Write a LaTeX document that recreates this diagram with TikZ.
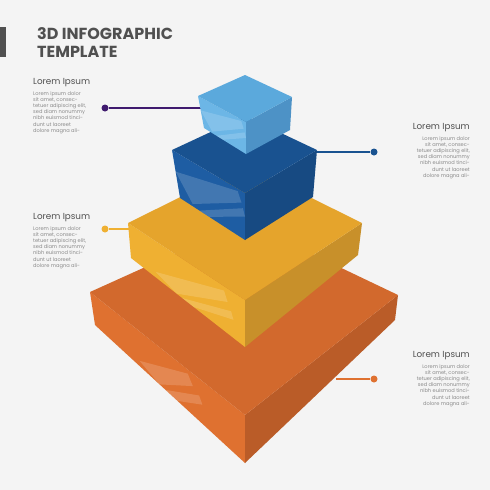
\documentclass[tikz,border=0pt]{standalone}
\usepackage{fontspec}
\setmainfont{Poppins}
\usetikzlibrary{positioning, calc}

\definecolor{bg}{HTML}{F4F4F4}
\definecolor{headgray}{HTML}{505050}
\definecolor{bodygray}{HTML}{8A8A8A}
\definecolor{purp}{HTML}{3F1A6E}
\definecolor{lbTop}{HTML}{5BA9DC}
\definecolor{lbLeft}{HTML}{6CB6E6}
\definecolor{lbRight}{HTML}{4D92C6}
\definecolor{dbTop}{HTML}{195290}
\definecolor{dbLeft}{HTML}{1E5DA3}
\definecolor{dbRight}{HTML}{174A82}
\definecolor{yeTop}{HTML}{E5A42C}
\definecolor{yeLeft}{HTML}{EFB032}
\definecolor{yeRight}{HTML}{C8902A}
\definecolor{orTop}{HTML}{D2692D}
\definecolor{orLeft}{HTML}{DF7130}
\definecolor{orRight}{HTML}{BA5C28}

\begin{document}
\begin{tikzpicture}[x=1pt, y=-1pt,
  head/.style={font=\fontsize{8.8}{11}\selectfont, text=headgray, inner sep=0pt},
  body/.style={font=\fontsize{5.1}{6.2}\selectfont, text=bodygray, inner sep=0pt},
  dot/.style={circle, fill=#1, inner sep=0pt, minimum size=7pt},
  link/.style={draw=#1, line width=1.2pt},
  gloss/.style={fill=white, opacity=0.16}]
\fill[bg] (0,0) rectangle (490,490);
\useasboundingbox (0,0) rectangle (490,490);

% title
\fill[headgray] (0,27) rectangle (6,57);
\node[anchor=north west, align=left, inner sep=0pt, text=headgray,
  font=\fontsize{16}{17.5}\selectfont\bfseries] (title) at (37,27.5) {3D INFOGRAPHIC\\TEMPLATE};

% texts
\node[head, anchor=base west] (h1) at (33,84.5) {Lorem Ipsum};
\node[body, below=4pt of h1.south west, anchor=north west, align=left] (t1)
  {Lorem ipsum dolor\\sit amet, consec-\\tetuer adipiscing elit,\\sed diam nonummy\\nibh euismod tinci-\\dunt ut laoreet\\dolore magna ali-};
\node[head, anchor=base west] (h2) at (33,219.5) {Lorem Ipsum};
\node[body, below=4pt of h2.south west, anchor=north west, align=left] (t2)
  {Lorem ipsum dolor\\sit amet, consec-\\tetuer adipiscing elit,\\sed diam nonummy\\nibh euismod tinci-\\dunt ut laoreet\\dolore magna ali-};
\node[head, anchor=base east] (h3) at (470,129.5) {Lorem Ipsum};
\node[body, below=4pt of h3.south east, anchor=north east, align=right] (t3)
  {Lorem ipsum dolor\\sit amet, consec-\\tetuer adipiscing elit,\\sed diam nonummy\\nibh euismod tinci-\\dunt ut laoreet\\dolore magna ali-};
\node[head, anchor=base east] (h4) at (470,357.5) {Lorem Ipsum};
\node[body, below=4pt of h4.south east, anchor=north east, align=right] (t4)
  {Lorem ipsum dolor\\sit amet, consec-\\tetuer adipiscing elit,\\sed diam nonummy\\nibh euismod tinci-\\dunt ut laoreet\\dolore magna ali-};

% connectors
\node[dot=purp] (d1) at (105,108) {};
\coordinate (c1) at (201,108);
\draw[link=purp] (d1) -- (c1);
\node[dot=dbTop] (d2) at (374,152) {};
\coordinate (c2) at (315,152);
\draw[link=dbTop] (c2) -- (d2);
\node[dot=yeLeft] (d3) at (105,229) {};
\coordinate (c3) at (130,229);
\draw[link=yeLeft] (d3) -- (c3);
\node[dot=orLeft] (d4) at (374,379) {};
\coordinate (c4) at (336,379);
\draw[link=orLeft] (c4) -- (d4);

% orange slab
\fill[orLeft] (90,292) -- (245,415) -- (245,463) -- (95,325) -- cycle;
\fill[orRight] (245,415) -- (398,295) -- (395,320) -- (245,463) -- cycle;
\fill[orTop] (90,292) -- (245,222) -- (398,295) -- (245,415) -- cycle;
\fill[gloss] (139.5,360.8) -- (187.8,373.7) -- (192.8,386.1) -- (159.5,384.4) -- cycle;
\fill[gloss] (165.5,389.9) -- (199.1,395.5) -- (202.4,404.7) -- (177.5,400.9) -- cycle;

% yellow slab
\fill[yeLeft] (128,223) -- (245,300) -- (245,347) -- (131,258) -- cycle;
\fill[yeRight] (245,300) -- (362,223) -- (358,255) -- (245,347) -- cycle;
\fill[yeTop] (128,223) -- (245,165) -- (362,223) -- (245,300) -- cycle;
\fill[gloss] (155.7,271.9) -- (224,290.6) -- (227.6,302) -- (176.6,293.6) -- cycle;
\fill[gloss] (182.3,298.1) -- (231.1,311.3) -- (233.5,319.8) -- (193.7,307) -- cycle;

% dark blue cube
\fill[dbLeft] (172,150) -- (245,193) -- (245,240) -- (180,198) -- cycle;
\fill[dbRight] (245,193) -- (317,150) -- (313,197) -- (245,240) -- cycle;
\fill[dbTop] (172,150) -- (245,116) -- (317,150) -- (245,193) -- cycle;
\fill[gloss] (175.6,171.6) -- (237.7,191.1) -- (241.5,202.6) -- (192.7,204) -- cycle;
\fill[gloss] (199.5,210.6) -- (242.9,208.2) -- (245,216.5) -- (209.3,216.9) -- cycle;

% light blue cube
\fill[lbLeft] (198,96) -- (246,122) -- (246,154) -- (204,128) -- cycle;
\fill[lbRight] (246,122) -- (292,97) -- (290,130) -- (246,154) -- cycle;
\fill[lbTop] (198,96) -- (245,75) -- (292,97) -- (246,122) -- cycle;
\fill[gloss] (200.7,110.4) -- (241.2,121) -- (243.7,128.7) -- (212.2,131.6) -- cycle;
\fill[gloss] (216.6,135.8) -- (244.6,132.4) -- (246,138) -- (222.9,139.7) -- cycle;
\end{tikzpicture}
\end{document}
